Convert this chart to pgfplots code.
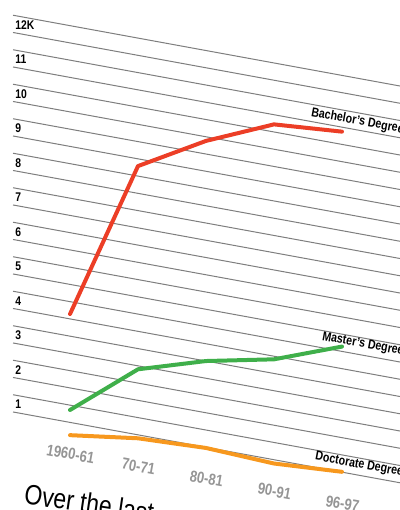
\documentclass[border=0pt]{standalone}
\usepackage{pgfplots}
\pgfplotsset{compat=1.18}
\usepackage{fontspec}
\setmainfont{Liberation Sans}
\newfontfamily\cond{Liberation Sans}[FakeStretch=0.82]
\definecolor{bach}{HTML}{EC3E26}
\definecolor{mast}{HTML}{3FAF4A}
\definecolor{doct}{HTML}{F7981E}
\definecolor{gridc}{HTML}{7E7E7E}
\definecolor{xlab}{HTML}{959595}
\begin{document}
\begin{tikzpicture}
\begin{axis}[
  x={(34pt,-6.22pt)}, y={(0pt,17.25pt)},
  anchor=origin, at={(35pt,26.55pt)},
  xmin=-0.838, xmax=5.3, ymin=0, ymax=12.5,
  axis line style={draw=none},
  major tick length=0pt, minor tick length=0pt,
  ytick={1,2,3,4,5,6,7,8,9,10,11,12},
  minor ytick={1.5,2.5,3.5,4.5,5.5,6.5,7.5,8.5,9.5,10.5,11.5,12.5},
  yticklabels={1,2,3,4,5,6,7,8,9,10,11,12K},
  ymajorgrids, yminorgrids,
  major grid style={gridc, line width=0.5pt},
  minor grid style={gridc, line width=0.5pt},
  xtick={0,1,2,3,4},
  xticklabels={1960-61,70-71,80-81,90-91,96-97},
  xticklabel style={anchor=center, rotate=-10.4, font=\cond\bfseries\fontsize{8}{9}\selectfont, text=xlab, yshift=1.5pt},
  yticklabel style={anchor=base west, xshift=1pt, yshift=1.5pt, inner sep=0pt, font=\cond\bfseries\fontsize{6.3}{7}\selectfont, text=black},
  /pgf/number format/assume math mode=true,
  clip=false,
]
\addplot[doct, line width=2pt, line join=round, line cap=round] coordinates {(0,0.63) (1,0.90) (2,0.98) (3,0.89) (4,1.01)};
\addplot[mast, line width=2pt, line join=round, line cap=round] coordinates {(0,1.36) (1,2.90) (2,3.50) (3,3.91) (4,4.64)};
\addplot[bach, line width=2pt, line join=round, line cap=round] coordinates {(0,4.14) (1,8.79) (2,9.88) (3,10.72) (4,10.87)};
\node[rotate=-10.4, anchor=west, inner sep=0pt, font=\cond\bfseries\fontsize{6.5}{7}\selectfont] at (axis cs:3.544,11.25) {Bachelor’s Degree};
\node[rotate=-10.4, anchor=west, inner sep=0pt, font=\cond\bfseries\fontsize{6.5}{7}\selectfont] at (axis cs:3.706,4.81) {Master’s Degree};
\node[rotate=-10.4, anchor=west, inner sep=0pt, font=\cond\bfseries\fontsize{6.5}{7}\selectfont] at (axis cs:3.603,1.30) {Doctorate Degree};
\end{axis}
\node[rotate=-8.5, anchor=base west, inner sep=0pt, font=\cond\fontsize{14}{16}\selectfont] at (11.5pt,3.2pt) {Over the last};
\pgfresetboundingbox
\useasboundingbox (0,0) rectangle (200pt,255pt);
\end{tikzpicture}
\end{document}
